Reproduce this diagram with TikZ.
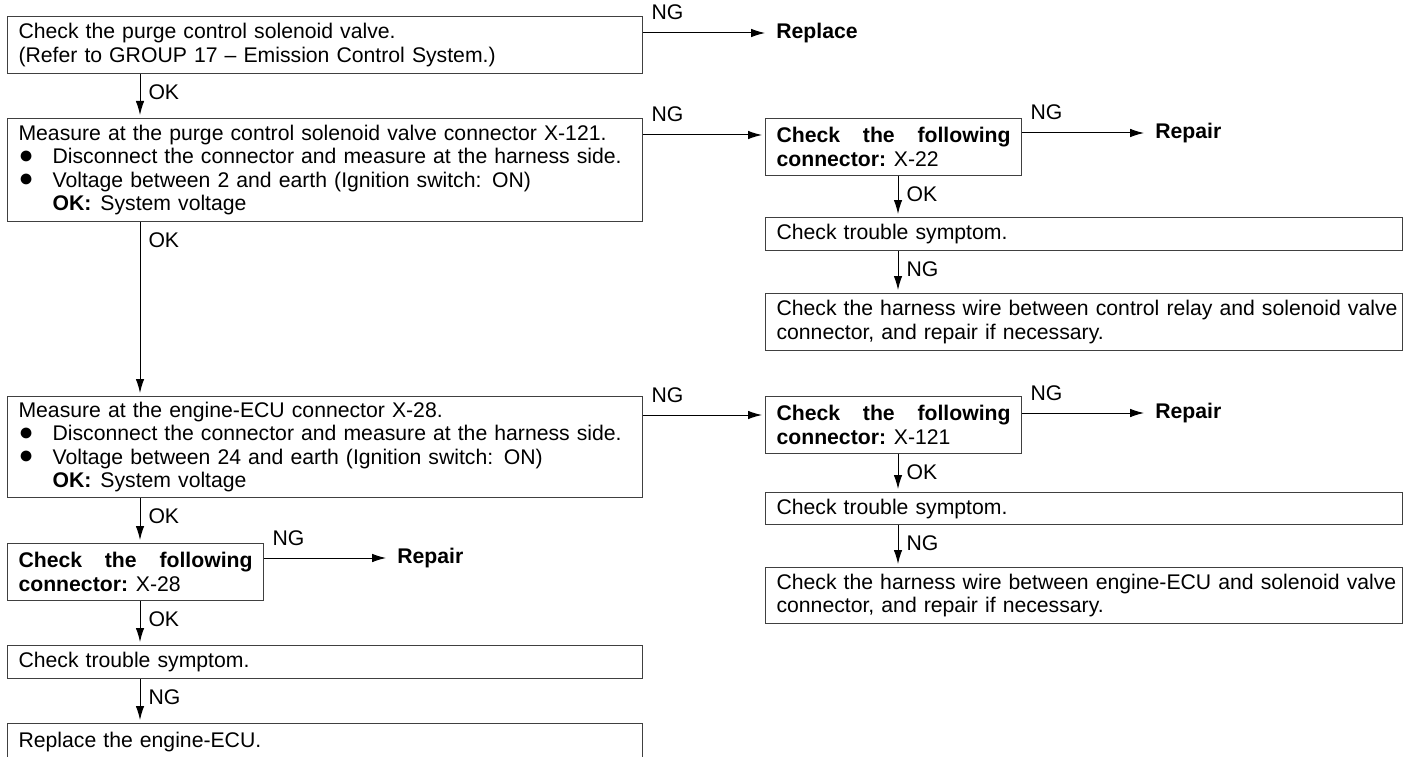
\documentclass[tikz,border=0pt]{standalone}
\usepackage{fontspec}
\setmainfont{Liberation Sans}
\usetikzlibrary{arrows.meta}

\newcommand{\blt}{\makebox[34pt][l]{\raisebox{0.5pt}{\fontsize{25}{25}\selectfont ●}}}
\newcommand{\okline}[1]{\hspace*{34pt}\textbf{OK:}\hspace{9pt}#1}

\begin{document}
\begin{tikzpicture}[
    x=1pt, y=-1pt,
    font=\fontsize{21.2}{23.5}\selectfont,
    box/.style={draw=black!75, line width=1.1pt, rectangle, anchor=north west, inner xsep=11pt, inner ysep=0pt, align=left},
    wide/.style={box, text width=613pt, minimum width=635pt},
    widr/.style={box, text width=615pt, minimum width=637pt},
    conn/.style={box, text width=234pt, minimum width=256pt, minimum height=57pt, align=justify},
    res/.style={anchor=west, inner xsep=8pt, font=\fontsize{21.2}{23.5}\selectfont\bfseries},
    lab/.style={inner sep=0pt, anchor=base west},
    arr/.style={-{Latex[length=14pt,width=8.5pt]}, line width=1pt, shorten >=3pt}
]
    \useasboundingbox (0,0) rectangle (1408,757);

    % Coluna da esquerda
    \node[wide, minimum height=57pt] (chk) at (7,16) {Check the purge control solenoid valve.\\(Refer to GROUP 17 -- Emission Control System.)};
    \node[wide, minimum height=103pt] (meas1) at (7,118) {Measure at the purge control solenoid valve connector X-121.\\\blt Disconnect the connector and measure at the harness side.\\\blt Voltage between 2 and earth (Ignition switch: ON)\\\okline{System voltage}};
    \node[wide, minimum height=101pt] (meas2) at (7,396) {Measure at the engine-ECU connector X-28.\\\blt Disconnect the connector and measure at the harness side.\\\blt Voltage between 24 and earth (Ignition switch: ON)\\\okline{System voltage}};
    \node[conn] (conn28) at (7,543) {\textbf{Check the following}\linebreak\textbf{connector:} X-28};
    \node[wide, minimum height=33pt] (trbl1) at (7,645) {Check trouble symptom.};
    \node[wide, minimum height=36pt] (ecu) at (7,723) {Replace the engine-ECU.};

    % Coluna da direita
    \node[conn] (conn22) at (765,118) {\textbf{Check the following}\linebreak\textbf{connector:} X-22};
    \node[widr, minimum height=33pt] (trbl2) at (765,217) {Check trouble symptom.};
    \node[widr, minimum height=57pt] (harn1) at (765,293) {\mbox{Check the harness wire between control relay and solenoid valve}\\\mbox{connector, and repair if necessary.}};
    \node[conn] (conn121) at (765,396) {\textbf{Check the following}\linebreak\textbf{connector:} X-121};
    \node[widr, minimum height=32pt] (trbl3) at (765,492) {Check trouble symptom.};
    \node[widr, minimum height=56pt] (harn2) at (765,567) {\mbox{Check the harness wire between engine-ECU and solenoid valve}\\\mbox{connector, and repair if necessary.}};

    % Saidas NG com texto
    \coordinate (o1) at ([yshift=-17pt]chk.north east);
    \coordinate (o28) at ([yshift=-15pt]conn28.north east);
    \coordinate (o22) at ([yshift=-15pt]conn22.north east);
    \coordinate (o121) at ([yshift=-17pt]conn121.north east);
    \node[res] (replace) at ([xshift=125pt]o1) {Replace};
    \node[res] (rep28) at ([xshift=125pt]o28) {Repair};
    \node[res] (rep22) at ([xshift=125pt]o22) {Repair};
    \node[res] (rep121) at ([xshift=125pt]o121) {Repair};

    \draw[arr] (o1) -- (replace.west) node[lab, at start, xshift=8pt, yshift=13pt]{NG};
    \draw[arr] (o28) -- (rep28.west) node[lab, at start, xshift=8pt, yshift=13pt]{NG};
    \draw[arr] (o22) -- (rep22.west) node[lab, at start, xshift=8pt, yshift=13pt]{NG};
    \draw[arr] (o121) -- (rep121.west) node[lab, at start, xshift=8pt, yshift=13pt]{NG};

    % Setas NG para a direita
    \coordinate (i22) at ([yshift=-17pt]conn22.north west);
    \coordinate (i121) at ([yshift=-19pt]conn121.north west);
    \draw[arr] (meas1.east |- i22) -- (i22) node[lab, at start, xshift=8pt, yshift=13pt]{NG};
    \draw[arr] (meas2.east |- i121) -- (i121) node[lab, at start, xshift=8pt, yshift=13pt]{NG};

    % Setas verticais
    \coordinate (colL) at (140,0);
    \coordinate (colR) at (898,0);
    \draw[arr] (chk.south -| colL) -- (meas1.north -| colL) node[lab, at start, xshift=8pt, yshift=-25pt]{OK};
    \draw[arr] (meas1.south -| colL) -- (meas2.north -| colL) node[lab, at start, xshift=8pt, yshift=-25pt]{OK};
    \draw[arr] (meas2.south -| colL) -- (conn28.north -| colL) node[lab, at start, xshift=8pt, yshift=-25pt]{OK};
    \draw[arr] (conn28.south -| colL) -- (trbl1.north -| colL) node[lab, at start, xshift=8pt, yshift=-25pt]{OK};
    \draw[arr] (trbl1.south -| colL) -- (ecu.north -| colL) node[lab, at start, xshift=8pt, yshift=-25pt]{NG};
    \draw[arr] (conn22.south -| colR) -- (trbl2.north -| colR) node[lab, at start, xshift=8pt, yshift=-25pt]{OK};
    \draw[arr] (trbl2.south -| colR) -- (harn1.north -| colR) node[lab, at start, xshift=8pt, yshift=-25pt]{NG};
    \draw[arr] (conn121.south -| colR) -- (trbl3.north -| colR) node[lab, at start, xshift=8pt, yshift=-25pt]{OK};
    \draw[arr] (trbl3.south -| colR) -- (harn2.north -| colR) node[lab, at start, xshift=8pt, yshift=-25pt]{NG};
\end{tikzpicture}
\end{document}
